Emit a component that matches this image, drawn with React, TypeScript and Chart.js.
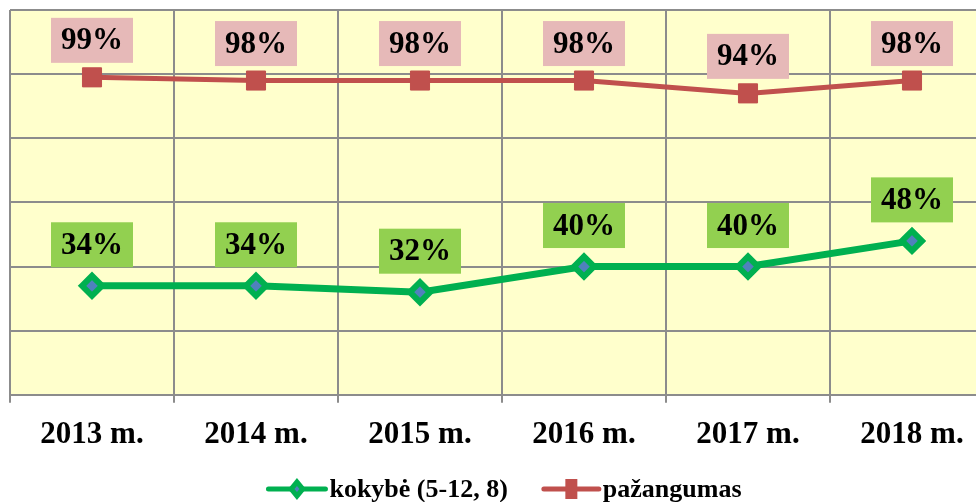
import { useEffect, useRef } from "react";
import { Chart, registerables } from "chart.js";

Chart.register(...registerables);

const categories = ["2013 m.", "2014 m.", "2015 m.", "2016 m.", "2017 m.", "2018 m."];
const kokybe = [34, 34, 32, 40, 40, 48];
const pazangumas = [99, 98, 98, 98, 94, 98];
const seriesNames = ["kokybė (5-12, 8)", "pažangumas"];
const yTicks = [0, 20, 40, 60, 80, 100, 120];

const SHIFT = 6;
const W = 1016;
const H = 512;
const GREEN = "#00b050";
const RED = "#c0504d";
const BLUE = "#4f81bd";
const GRID = "#8c8c8c";
const SERIF = '"Liberation Serif", "Times New Roman", serif';

const bgPlugin = {
  id: "bgPlugin",
  beforeDraw(chart: any) {
    const { ctx, chartArea } = chart;
    ctx.save();
    ctx.fillStyle = "#ffffcc";
    ctx.fillRect(chartArea.left, chartArea.top, chartArea.right - chartArea.left, chartArea.bottom - chartArea.top);
    ctx.restore();
  },
};

const labelPlugin = {
  id: "labelPlugin",
  afterDatasetsDraw(chart: any) {
    const { ctx } = chart;
    const cfg = [
      { fill: "#92d050", offset: 41 },
      { fill: "#e6b9b8", offset: 37 },
    ];
    ctx.save();
    ctx.font = `bold 31px ${SERIF}`;
    ctx.textAlign = "center";
    ctx.textBaseline = "middle";
    chart.data.datasets.forEach((ds: any, i: number) => {
      const meta = chart.getDatasetMeta(i);
      meta.data.forEach((el: any, j: number) => {
        const txt = ds.data[j] + "%";
        const tw = ctx.measureText(txt).width;
        const cx = el.x;
        const cy = el.y - cfg[i].offset;
        const bw = tw + 20;
        const bh = 45;
        ctx.fillStyle = cfg[i].fill;
        ctx.fillRect(cx - bw / 2, cy - bh / 2, bw, bh);
        ctx.fillStyle = "#000";
        ctx.fillText(txt, cx, cy + 1);
      });
    });
    ctx.restore();
  },
};

const legendPlugin = {
  id: "legendPlugin",
  afterDraw(chart: any) {
    const { ctx } = chart;
    ctx.save();
    ctx.font = `bold 26px ${SERIF}`;
    const items = [
      { text: seriesNames[0], color: GREEN, lineW: 57, marker: "diamond" },
      { text: seriesNames[1], color: RED, lineW: 55, marker: "rect" },
    ];
    const gapText = 4;
    const gapItems = 36;
    const widths = items.map((it) => it.lineW + gapText + ctx.measureText(it.text).width);
    const total = widths.reduce((a, b) => a + b, 0) + gapItems;
    let x = 505 + SHIFT - total / 2;
    const y = 489 + SHIFT;
    items.forEach((it, k) => {
      ctx.strokeStyle = it.color;
      ctx.lineWidth = 5;
      ctx.lineCap = "round";
      ctx.beginPath();
      ctx.moveTo(x, y);
      ctx.lineTo(x + it.lineW, y);
      ctx.stroke();
      const mx = x + it.lineW / 2;
      if (it.marker === "diamond") {
        ctx.fillStyle = GREEN;
        ctx.beginPath();
        ctx.moveTo(mx, y - 11);
        ctx.lineTo(mx + 9, y);
        ctx.lineTo(mx, y + 11);
        ctx.lineTo(mx - 9, y);
        ctx.closePath();
        ctx.fill();
        ctx.fillStyle = BLUE;
        ctx.beginPath();
        ctx.moveTo(mx, y - 3);
        ctx.lineTo(mx + 2.5, y);
        ctx.lineTo(mx, y + 3);
        ctx.lineTo(mx - 2.5, y);
        ctx.closePath();
        ctx.fill();
      } else {
        ctx.fillStyle = RED;
        ctx.fillRect(mx - 6, y - 10, 12, 20);
      }
      ctx.fillStyle = "#000";
      ctx.textAlign = "left";
      ctx.textBaseline = "alphabetic";
      ctx.fillText(it.text, x + it.lineW + gapText, y + 8);
      x += widths[k] + gapItems;
    });
    ctx.restore();
  },
};

export default function App() {
  const ref = useRef<HTMLCanvasElement>(null);
  useEffect(() => {
    if (!ref.current) return;
    const chart = new Chart(ref.current, {
      type: "line",
      data: {
        labels: categories,
        datasets: [
          {
            label: seriesNames[0],
            data: kokybe,
            borderColor: GREEN,
            backgroundColor: BLUE,
            borderWidth: 7,
            tension: 0,
            pointStyle: "rectRot",
            pointRadius: 10,
            pointHoverRadius: 10,
            pointBackgroundColor: BLUE,
            pointBorderColor: GREEN,
            pointBorderWidth: 6,
          },
          {
            label: seriesNames[1],
            data: pazangumas,
            borderColor: RED,
            backgroundColor: RED,
            borderWidth: 5,
            tension: 0,
            pointStyle: "rect",
            pointRadius: 13.5,
            pointHoverRadius: 13.5,
            pointBackgroundColor: RED,
            pointBorderColor: RED,
            pointBorderWidth: 1,
          },
        ],
      },
      options: {
        responsive: false,
        animation: false,
        layout: { padding: { left: 0, top: 0, right: 16, bottom: 38 } },
        plugins: {
          legend: { display: false },
          tooltip: { enabled: false },
        },
        scales: {
          x: {
            type: "category",
            offset: true,
            grid: { offset: true, color: GRID, lineWidth: 2, tickLength: 8, drawTicks: true },
            border: { color: GRID, width: 2 },
            ticks: {
              color: "#000",
              padding: 14,
              maxRotation: 0,
              font: { family: SERIF, size: 31, weight: "bold" },
            },
          },
          y: {
            min: yTicks[0],
            max: yTicks[yTicks.length - 1],
            afterBuildTicks: (axis: any) => {
              axis.ticks = yTicks.map((v) => ({ value: v }));
            },
            ticks: { display: false, stepSize: 20 },
            grid: { color: GRID, lineWidth: 2, drawTicks: false },
            border: { display: false },
          },
        },
      },
      plugins: [bgPlugin, labelPlugin, legendPlugin],
    } as any);
    return () => chart.destroy();
  }, []);
  return (
    <div style={{ position: "absolute", left: 0, top: 0, width: 976, height: 502, overflow: "hidden", background: "#fff" }}>
      <canvas
        ref={ref}
        width={W}
        height={H}
        style={{ display: "block", position: "absolute", left: -SHIFT, top: -SHIFT, width: W, height: H }}
      />
    </div>
  );
}
